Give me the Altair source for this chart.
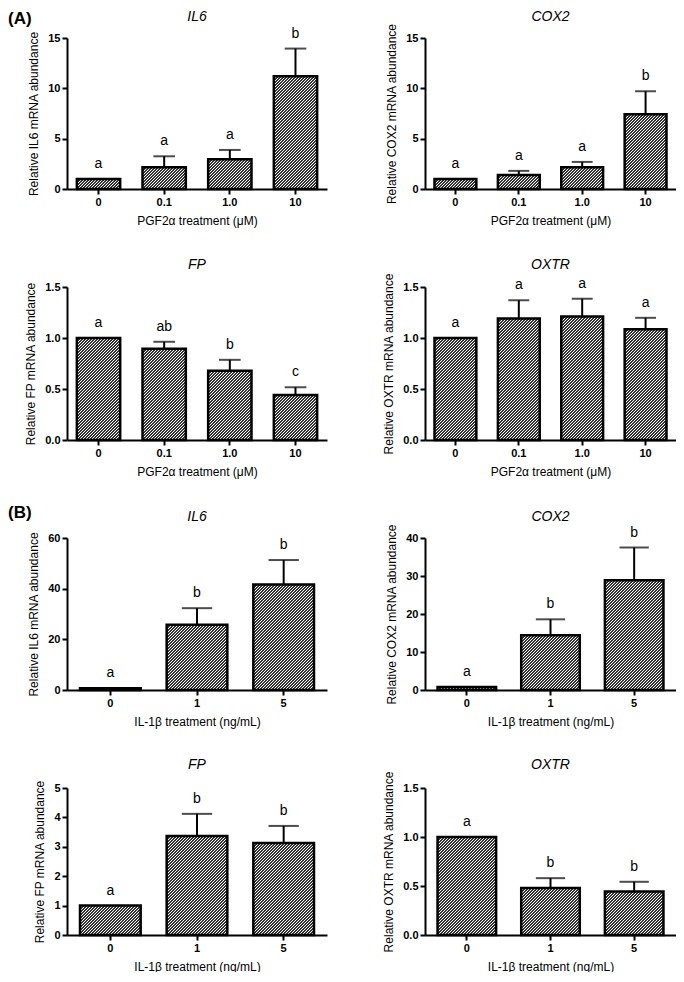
import math
import altair as alt
import pandas as pd

FONT = "Liberation Sans"

# ---------------- data ----------------
a_doses = ["0", "0.1", "1.0", "10"]
b_doses = ["0", "1", "5"]

a_il6_mean = [1.0, 2.15, 2.95, 11.2]
a_il6_err = [None, 3.25, 3.88, 13.95]
a_il6_sig = ["a", "a", "a", "b"]

a_cox2_mean = [1.0, 1.38, 2.17, 7.42]
a_cox2_err = [None, 1.8, 2.69, 9.71]
a_cox2_sig = ["a", "a", "a", "b"]

a_fp_mean = [1.0, 0.894, 0.68, 0.44]
a_fp_err = [None, 0.963, 0.786, 0.517]
a_fp_sig = ["a", "ab", "b", "c"]

a_oxtr_mean = [1.0, 1.19, 1.21, 1.086]
a_oxtr_err = [None, 1.37, 1.385, 1.198]
a_oxtr_sig = ["a", "a", "a", "a"]

b_il6_mean = [0.7, 25.8, 41.6]
b_il6_err = [None, 32.3, 51.3]
b_il6_sig = ["a", "b", "b"]

b_cox2_mean = [0.8, 14.4, 28.85]
b_cox2_err = [None, 18.6, 37.5]
b_cox2_sig = ["a", "b", "b"]

b_fp_mean = [1.0, 3.37, 3.13]
b_fp_err = [None, 4.12, 3.71]
b_fp_sig = ["a", "b", "b"]

b_oxtr_mean = [1.0, 0.479, 0.445]
b_oxtr_err = [None, 0.58, 0.543]
b_oxtr_sig = ["a", "b", "b"]

a_xtitle = "PGF2\u03b1 treatment (\u03bcM)"
b_xtitle = "IL-1\u03b2 treatment (ng/mL)"

# ---------------- style ----------------
HATCH_PH = 3.0          # px, horizontal period of the '/' hatch lines
HATCH_DARK_FRAC = 2.0 / 3.0
HATCH_DARK = "#333333"


def hatch_for(wpx, hpx):
    """45-degree '/' hatching as a striped linear gradient (bbox units),
    with an exact pixel period so it does not alias."""
    wpx = max(wpx, 1.0)
    hpx = max(hpx, 1.0)
    nst = int(math.ceil((wpx + hpx) / HATCH_PH))
    L = nst * HATCH_PH
    c = L / (wpx * wpx + hpx * hpx)
    stops = []
    for i in range(nst):
        s0 = i / nst
        s1 = (i + HATCH_DARK_FRAC) / nst
        s2 = (i + 1) / nst
        stops += [
            alt.GradientStop(offset=s0, color=HATCH_DARK),
            alt.GradientStop(offset=s1, color=HATCH_DARK),
            alt.GradientStop(offset=s1, color="#ffffff"),
            alt.GradientStop(offset=s2, color="#ffffff"),
        ]
    return alt.Gradient(gradient="linear", x1=0, y1=0,
                        x2=wpx * c, y2=hpx * c, stops=stops)


def panel(gene, doses, means, errs, letters, ymax, yvals, yfmt, xtitle,
          w, h, tag=None, tag_y=-19, title_y=-21):
    df = pd.DataFrame({"dose": doses, "mean": means, "err": errs, "sig": letters})
    df["top"] = [e if e is not None else m for m, e in zip(means, errs)]
    n = len(doses)
    pin = 0.34 if n == 4 else 0.30
    step = w / (n - pin + 0.3)
    band = step * (1 - pin)
    cap = band / 2

    x = alt.X("dose:N", sort=doses,
              scale=alt.Scale(paddingInner=pin, paddingOuter=0.15),
              axis=alt.Axis(title=xtitle, labelAngle=0, labelPadding=2,
                            titlePadding=8))
    yscale = alt.Scale(domain=[0, ymax], nice=False, zero=True)
    yaxis = alt.Axis(values=yvals, tickCount=len(yvals), format=yfmt,
                     title=f"Relative {gene} mRNA abundance",
                     labelPadding=2, titlePadding=7)
    base = alt.Chart(df)
    layers = []
    for d, m in zip(doses, means):
        layers.append(
            base.transform_filter(alt.datum.dose == d).mark_bar(
                fill=hatch_for(band, m / ymax * h), stroke="black",
                strokeWidth=2.5).encode(
                x=x, y=alt.Y("mean:Q", scale=yscale, axis=yaxis)))
    rules = base.transform_filter("datum.err != null").mark_rule(
        color="black", strokeWidth=2).encode(x=x, y="mean:Q", y2="err:Q")
    caps = base.transform_filter("datum.err != null").mark_tick(
        color="black", thickness=2, size=cap).encode(x=x, y="err:Q")
    text = base.mark_text(baseline="bottom", dy=-8, fontSize=14, font=FONT,
                          color="black").encode(x=x, y="top:Q", text="sig:N")
    gdf = pd.DataFrame({"g": [gene]})
    gtitle = alt.Chart(gdf).mark_text(
        align="center", baseline="middle", fontSize=14, fontStyle="italic",
        font=FONT, color="black").encode(
        text="g:N", x=alt.value(w / 2), y=alt.value(title_y))
    layers += [rules, caps, text, gtitle]
    if tag is not None:
        tdf = pd.DataFrame({"t": [tag]})
        layers.append(alt.Chart(tdf).mark_text(
            align="left", baseline="middle", fontSize=17, fontWeight="bold",
            font=FONT, color="black").encode(
            text="t:N", x=alt.value(-59), y=alt.value(tag_y)))
    return alt.layer(*layers).properties(width=w, height=h)


LW, RW = 260, 251
panels = [
    panel("IL6", a_doses, a_il6_mean, a_il6_err, a_il6_sig, 15, [0, 5, 10, 15], "d", a_xtitle, LW, 151, tag="(A)"),
    panel("COX2", a_doses, a_cox2_mean, a_cox2_err, a_cox2_sig, 15, [0, 5, 10, 15], "d", a_xtitle, RW, 151),
    panel("FP", a_doses, a_fp_mean, a_fp_err, a_fp_sig, 1.5, [0, 0.5, 1.0, 1.5], ".1f", a_xtitle, LW, 153, title_y=-22),
    panel("OXTR", a_doses, a_oxtr_mean, a_oxtr_err, a_oxtr_sig, 1.5, [0, 0.5, 1.0, 1.5], ".1f", a_xtitle, RW, 153, title_y=-22),
    panel("IL6", b_doses, b_il6_mean, b_il6_err, b_il6_sig, 60, [0, 20, 40, 60], "d", b_xtitle, LW, 152, tag="(B)", tag_y=-25),
    panel("COX2", b_doses, b_cox2_mean, b_cox2_err, b_cox2_sig, 40, [0, 10, 20, 30, 40], "d", b_xtitle, RW, 152),
    panel("FP", b_doses, b_fp_mean, b_fp_err, b_fp_sig, 5, [0, 1, 2, 3, 4, 5], "d", b_xtitle, LW, 147, title_y=-23),
    panel("OXTR", b_doses, b_oxtr_mean, b_oxtr_err, b_oxtr_sig, 1.5, [0, 0.5, 1.0, 1.5], ".1f", b_xtitle, RW, 147, title_y=-23),
]

chart = alt.concat(*panels, columns=2, bounds="flush",
                   spacing={"row": 98, "column": 98}).properties(
    padding={"top": 2, "left": 0, "right": 0, "bottom": 0}, background="white"
).configure_view(stroke=None).configure_axis(
    grid=False,
    domainColor="black", domainWidth=2,
    tickColor="black", tickWidth=2, tickSize=5,
    labelColor="black", labelFont=FONT, labelFontSize=11, labelFontWeight="bold",
    titleColor="black", titleFont=FONT, titleFontSize=12, titleFontWeight="normal",
)

chart.save("out.html", embed_options={"renderer": "svg", "actions": False})
